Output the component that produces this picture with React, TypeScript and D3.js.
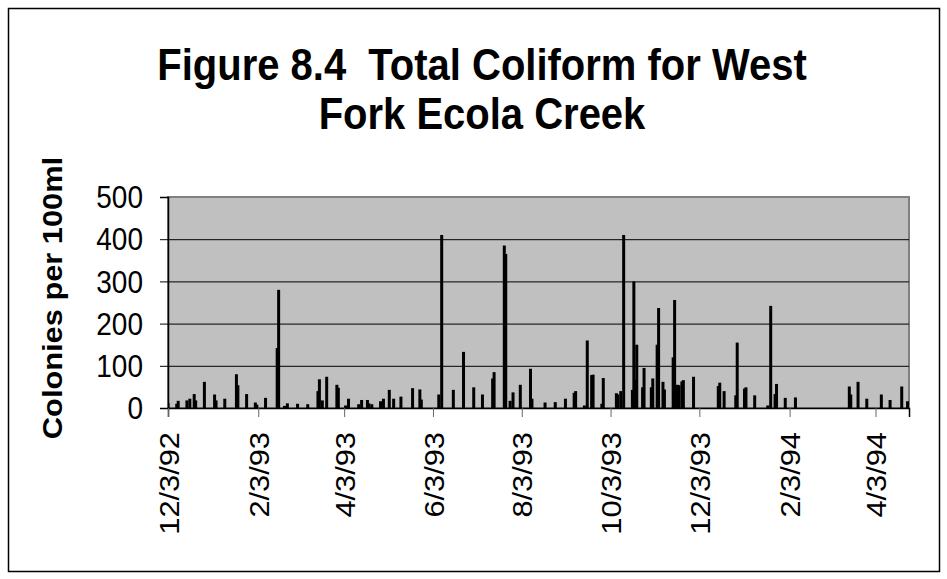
import React, { useRef, useEffect } from 'react';
import * as d3 from 'd3';

// sample dates and total coliform counts (colonies per 100ml)
const sampleDates = [
  '12/3/92', '12/9/92', '12/10/92', '12/16/92', '12/18/92', '12/21/92', '12/22/92', '12/28/92',
  '1/4/93', '1/5/93', '1/11/93', '1/19/93', '1/20/93', '1/26/93', '2/1/93', '2/2/93',
  '2/8/93', '2/16/93', '2/17/93', '2/21/93', '2/23/93', '3/2/93', '3/9/93', '3/16/93',
  '3/17/93', '3/19/93', '3/22/93', '3/29/93', '3/30/93', '4/4/93', '4/6/93', '4/13/93',
  '4/15/93', '4/19/93', '4/20/93', '4/22/93', '4/28/93', '4/30/93', '5/4/93', '5/7/93',
  '5/12/93', '5/20/93', '5/25/93', '5/26/93', '6/7/93', '6/9/93', '6/17/93', '6/24/93',
  '7/1/93', '7/7/93', '7/14/93', '7/15/93', '7/22/93', '7/23/93', '7/26/93', '7/28/93',
  '8/2/93', '8/9/93', '8/10/93', '8/19/93', '8/26/93', '9/2/93', '9/8/93', '9/9/93',
  '9/15/93', '9/17/93', '9/20/93', '9/21/93', '9/27/93', '9/28/93', '10/7/93', '10/8/93',
  '10/10/93', '10/12/93', '10/18/93', '10/19/93', '10/20/93', '10/21/93', '10/25/93', '10/26/93',
  '10/31/93', '11/1/93', '11/4/93', '11/5/93', '11/8/93', '11/9/93', '11/15/93', '11/16/93',
  '11/18/93', '11/19/93', '11/21/93', '11/22/93', '11/29/93', '12/16/93', '12/17/93', '12/20/93',
  '12/28/93', '12/29/93', '1/3/94', '1/4/94', '1/10/94', '1/19/94', '1/21/94', '1/24/94',
  '1/25/94', '1/31/94', '2/7/94', '3/16/94', '3/17/94', '3/22/94', '3/28/94', '4/7/94',
  '4/13/94', '4/21/94', '4/25/94'
];

const coliform = [
  12, 10, 17, 18, 22, 33, 18, 62,
  32, 18, 22, 80, 54, 33, 13, 8,
  24, 142, 280, 5, 11, 10, 9, 40,
  68, 18, 74, 55, 48, 6, 22, 9,
  19, 19, 11, 9, 16, 22, 43, 22,
  27, 47, 44, 20, 32, 410, 43, 133,
  49, 32, 70, 85, 385, 365, 17, 37,
  55, 93, 22, 13, 14, 22, 36, 40,
  6, 160, 78, 79, 10, 71, 35, 32,
  40, 410, 43, 300, 66, 150, 49, 95,
  49, 70, 150, 237, 62, 44, 120, 256,
  55, 54, 63, 66, 74, 52, 60, 40,
  30, 155, 46, 49, 30, 6, 242, 33,
  57, 24, 25, 51, 32, 62, 22, 32,
  19, 51, 16
];

const axisStart = '12/3/92';
const axisEnd = '4/26/94';
const tickDates = ['12/3/92', '2/3/93', '4/3/93', '6/3/93', '8/3/93', '10/3/93', '12/3/93', '2/3/94', '4/3/94'];
const yTicks = [0, 100, 200, 300, 400, 500];

const titleLines = ['Figure 8.4\u00a0 Total Coliform for West', 'Fork Ecola Creek'];
const yTitle = 'Colonies per 100ml';

const width = 947;
const height = 579;
const font = 'Arial, "Liberation Sans", sans-serif';
const stretch = 1.1; // text in the original is slightly taller than wide

const App: React.FC = () => {
  const ref = useRef<SVGSVGElement>(null);

  useEffect(() => {
    const svg = d3.select(ref.current!);
    svg.selectAll('*').remove();

    const parse = d3.utcParse('%m/%d/%y');
    const plot = { left: 168, right: 909, top: 197, bottom: 408 };

    const data = sampleDates.map((d, i) => ({ date: parse(d)!, value: coliform[i] }));

    const x = d3.scaleUtc()
      .domain([parse(axisStart)!, parse(axisEnd)!])
      .range([plot.left, plot.right]);

    const y = d3.scaleLinear()
      .domain([0, 500])
      .range([plot.bottom, plot.top]);

    // outer chart frame
    svg.append('rect')
      .attr('x', 8.5).attr('y', 8.5)
      .attr('width', 931).attr('height', 563)
      .attr('fill', '#fff')
      .attr('stroke', '#000')
      .attr('stroke-width', 1.5);

    titleLines.forEach((line, i) => {
      svg.append('text')
        .attr('transform', `translate(482,${80 + i * 49}) scale(1,${stretch})`)
        .attr('text-anchor', 'middle')
        .attr('font-family', font)
        .attr('font-weight', 'bold')
        .attr('font-size', 40)
        .text(line);
    });

    // plot area
    svg.append('rect')
      .attr('x', plot.left).attr('y', plot.top)
      .attr('width', plot.right - plot.left)
      .attr('height', plot.bottom - plot.top)
      .attr('fill', '#c0c0c0')
      .attr('stroke', '#808080')
      .attr('stroke-width', 2);

    // gridlines
    svg.append('g')
      .selectAll('line')
      .data(yTicks.filter(t => t > 0 && t < 500))
      .join('line')
      .attr('x1', plot.left).attr('x2', plot.right)
      .attr('y1', d => y(d) + 0.5).attr('y2', d => y(d) + 0.5)
      .attr('stroke', '#000')
      .attr('stroke-width', 1);

    svg.append('clipPath').attr('id', 'plotClip')
      .append('rect')
      .attr('x', plot.left).attr('y', plot.top)
      .attr('width', plot.right - plot.left)
      .attr('height', plot.bottom - plot.top);

    svg.append('g')
      .attr('clip-path', 'url(#plotClip)')
      .selectAll('rect')
      .data(data)
      .join('rect')
      .attr('x', d => x(d.date) - 1.5)
      .attr('width', 3)
      .attr('y', d => y(d.value))
      .attr('height', d => y(0) - y(d.value))
      .attr('fill', '#000');

    // y axis
    const yAxis = svg.append('g')
      .attr('transform', `translate(${plot.left},0)`)
      .call(d3.axisLeft(y).tickValues(yTicks).tickSize(8));
    yAxis.select('.domain').attr('stroke', '#000').attr('stroke-width', 1.5);
    yAxis.selectAll('.tick line').attr('stroke', '#000');
    yAxis.selectAll('.tick text')
      .attr('font-family', font)
      .attr('font-size', 28)
      .attr('fill', '#000')
      .attr('x', 0)
      .attr('dy', '0.35em')
      .attr('transform', `translate(-25,0) scale(1,${stretch})`);

    // x axis
    const xAxis = svg.append('g')
      .attr('transform', `translate(0,${plot.bottom})`)
      .call(d3.axisBottom(x)
        .tickValues(tickDates.map(d => parse(d)!))
        .tickSize(9)
        .tickFormat(d => {
          const dt = d as Date;
          return `${dt.getUTCMonth() + 1}/${dt.getUTCDate()}/${String(dt.getUTCFullYear()).slice(2)}`;
        }));
    xAxis.select('.domain').attr('stroke', '#000').attr('stroke-width', 1.5);
    xAxis.selectAll('.tick line').attr('stroke', '#666');
    xAxis.selectAll('.tick text')
      .attr('font-family', font)
      .attr('font-size', 28)
      .attr('fill', '#000')
      .attr('text-anchor', 'end')
      .attr('x', 0)
      .attr('y', 0)
      .attr('dy', '0.36em')
      .attr('transform', `translate(0,24) scale(1,${stretch}) rotate(-90)`);

    svg.append('text')
      .attr('transform', `translate(62,298) scale(1,${stretch}) rotate(-90)`)
      .attr('text-anchor', 'middle')
      .attr('font-family', font)
      .attr('font-weight', 'bold')
      .attr('font-size', 28)
      .text(yTitle);
  }, []);

  return (
    <svg
      ref={ref}
      width={width}
      height={height}
      style={{ position: 'absolute', left: 0, top: 0, display: 'block' }}
    ></svg>
  );
};

export default App;
